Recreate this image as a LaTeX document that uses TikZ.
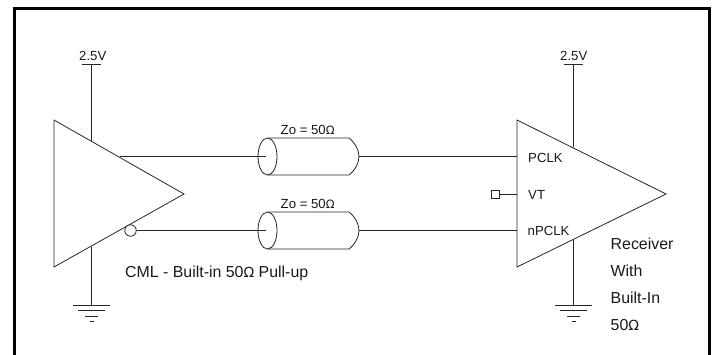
\documentclass[tikz,border=0pt]{standalone}
\usepackage{fontspec}
\setmainfont{Liberation Sans}
\newfontfamily\symfont{DejaVu Sans}
\tikzset{
  wire/.style={line width=0.8pt,draw=black!85},
  frameline/.style={line width=3pt,draw=black},
  lab/.style={inner sep=0pt,anchor=base west,text=black!90},
  small/.style={lab,font=\fontsize{13.2}{15}\selectfont},
  med/.style={lab,font=\fontsize{13.2}{15}\selectfont},
  big/.style={lab,font=\fontsize{15.9}{18}\selectfont},
  term/.style={draw=black!85,line width=0.8pt,fill=white,inner sep=0pt,minimum size=8pt,shape=rectangle},
  bub/.style={draw=black!85,line width=0.8pt,fill=white,inner sep=0pt,minimum size=11.5pt,shape=circle},
}
\begin{document}
\begin{tikzpicture}[x=1pt,y=-1pt]
\useasboundingbox (0,0) rectangle (714,354);
\draw[frameline] (14.8,360) -- (14.8,8.4) -- (709,8.4) -- (709,360);
% driver
\coordinate (ltop) at (54,120);
\coordinate (ltip) at (184,194);
\coordinate (lbot) at (54,267);
\coordinate (lvcc) at (91.5,64);
\coordinate (lvin) at (91.5,141);
\coordinate (lgin) at (91.5,247);
\coordinate (lgnd) at (91.5,305);
\draw[wire] (lvcc) -- (lvin);
\draw[wire] (lgin) -- (lgnd);
\draw[wire] (82,64) -- (101,64);
\node[small] (lv) at (79,60) {2.5V};
\draw[wire] (73,305) -- (110,305);
\draw[wire] (78,310.5) -- (105,310.5);
\draw[wire] (85,316) -- (98,316);
\draw[wire] (90,321) -- (94,321);
\draw[wire] (ltop) -- (ltip) -- (lbot) -- cycle;
\node[bub] (bubble) at (130.5,230.5) {};
% receiver
\coordinate (rtop) at (517,120);
\coordinate (rtip) at (666,194);
\coordinate (rbot) at (517,267);
\coordinate (rvcc) at (573.5,64);
\coordinate (rvin) at (573.5,147);
\coordinate (rgin) at (573.5,240);
\coordinate (rgnd) at (573.5,305);
\draw[wire] (rvcc) -- (rvin);
\draw[wire] (rgin) -- (rgnd);
\draw[wire] (564,64) -- (583,64);
\node[small] (rv) at (560,60) {2.5V};
\draw[wire] (555,305) -- (592,305);
\draw[wire] (560,310.5) -- (587,310.5);
\draw[wire] (567,316) -- (580,316);
\draw[wire] (572,321) -- (576,321);
\draw[wire] (rtop) -- (rtip) -- (rbot) -- cycle;
\node[term] (vt) at (495,194) {};
\draw[wire] (vt) -- (517,194);
% lines and cables
\foreach \yy/\nn/\xs in {156.5/a/119.5, 230.5/b/136.5}{
  \draw[wire] (\xs,\yy) -- (266,\yy);
  \draw[wire] (268,\yy-18.5) -- (349,\yy-18.5)
     .. controls (355,\yy-14) and (359,\yy-6) .. (359,\yy)
     .. controls (359,\yy+6) and (355,\yy+14) .. (349,\yy+18.5) -- (268,\yy+18.5);
  \draw[wire] (267.5,\yy) ellipse [x radius=9.5,y radius=18.5];
  \draw[wire] (359,\yy) -- (517,\yy);
  \node[small] (z\nn) at (280.5,\yy-22.5) {Zo = 50{\symfont\fontsize{11.5}{13}\selectfont Ω}};
}
\node[big] (cml) at (125,277) {CML - Built-in 50{\symfont\fontsize{14}{16}\selectfont Ω} Pull-up};
\node[med] (pclk) at (528,162) {PCLK};
\node[med] (vtl) at (528,199) {VT};
\node[med] (npclk) at (527.5,235.5) {nPCLK};
\node[big] (r1) at (610.5,249) {Receiver};
\node[big] (r2) at (610.5,276) {With};
\node[big] (r3) at (610.5,303) {Built-In};
\node[big] (r4) at (610.5,330) {50{\symfont\fontsize{14}{16}\selectfont Ω}};
\end{tikzpicture}
\end{document}
